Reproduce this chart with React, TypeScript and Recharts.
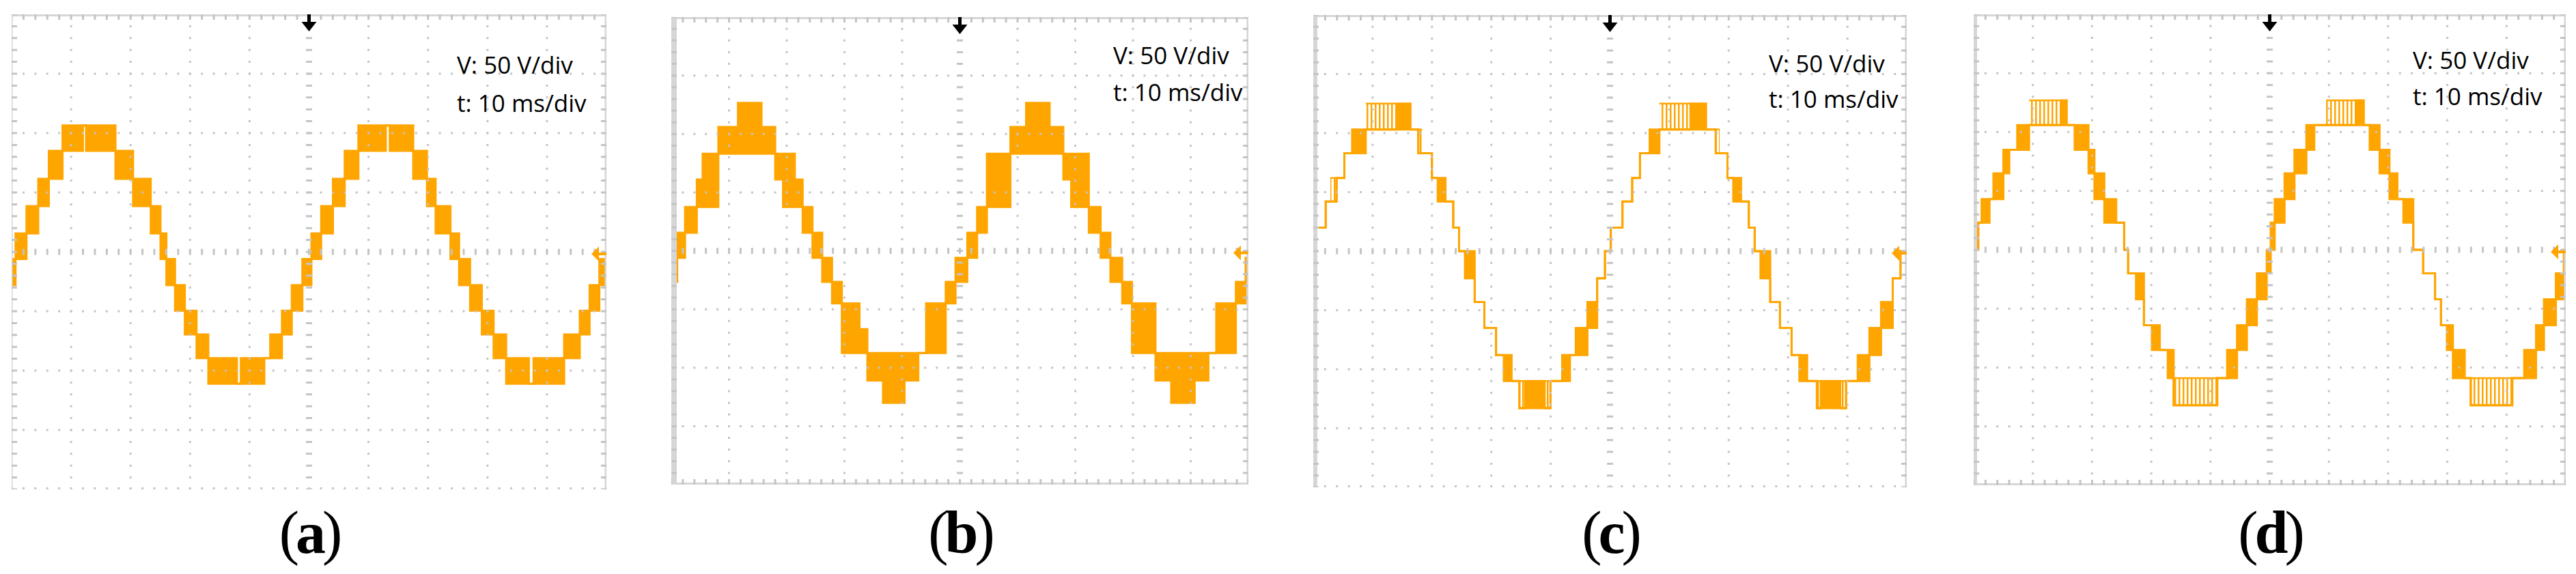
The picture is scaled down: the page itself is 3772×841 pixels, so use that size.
import React from 'react';
import { ComposedChart, Area, XAxis, YAxis, ReferenceLine, ReferenceDot } from 'recharts';

const ORANGE = '#FFA500';
const GRID = '#c4c4c4';
const FRAME = '#d6d6d6';

// time axis: 10 ms/div x 10 div ; voltage axis: 50 V/div x 8 div
const T_DOMAIN = [0, 100];
const V_DOMAIN = [-200, 200];
const T_GRID = [10, 20, 30, 40, 60, 70, 80, 90];
const V_GRID = [-150, -100, -50, 50, 100, 150];
const SCALE_TEXT = ['V: 50 V/div', 't: 10 ms/div'];
const LABELS = ['a', 'b', 'c', 'd'];

// ---- Panel (a) : staircase levels (V), segment boundaries (ms), low/high level index per segment
const A_LEVELS = [-111, -89.5, -69.5, -49.5, -28, -6, 15.5, 38.5, 61.5, 85, 106.5];
const A_T = [0, 0.66, 2.5, 4.48, 6.26, 8.56, 11.99, 12.52, 17.46, 20.42, 23.39, 25.03, 26.02, 27.47, 29.12, 31.09, 33.07, 37.88, 38.54, 42.49, 43.48, 45.45, 47.1, 48.88, 50.4, 52.04, 54.02, 56.0, 58.3, 62.91, 63.57, 67.52, 69.83, 71.28, 73.78, 75.23, 77.08, 79.05, 81.03, 83.14, 86.96, 87.75, 92.89, 95.52, 97.17, 98.81, 100];
const A_LO = [4, 5, 6, 7, 8, 9, 10, 9, 8, 7, 6, 5, 4, 3, 2, 1, 0, 0, 0, 1, 1, 2, 3, 4, 5, 6, 7, 8, 9, 10, 9, 8, 7, 6, 5, 4, 3, 2, 1, 0, 0, 0, 1, 2, 3, 4];
const A_HI = [5, 6, 7, 8, 9, 10, 10, 10, 9, 8, 7, 6, 5, 4, 3, 2, 1, 0, 1, 1, 2, 3, 4, 5, 6, 7, 8, 9, 10, 10, 10, 9, 8, 7, 6, 5, 4, 3, 2, 1, 0, 1, 2, 3, 4, 5];

// ---- Panel (b)
const B_LEVELS = [-130, -111, -87.5, -67, -45, -26.5, -6, 15.5, 37.5, 61, 83, 106, 126.5];
const B_T = [0, 1.02, 2.38, 4.42, 5.43, 8.15, 11.55, 15.63, 18.0, 19.36, 21.4, 22.76, 24.46, 26.15, 27.85, 29.55, 32.61, 33.97, 36.68, 40.42, 42.8, 44.16, 47.55, 49.25, 51.29, 52.99, 54.69, 58.76, 61.48, 65.56, 67.93, 69.29, 72.35, 74.39, 76.09, 78.13, 79.82, 83.9, 86.62, 90.69, 93.07, 94.43, 97.83, 99.52, 100];
const B_LO = [5, 6, 7, 8, 8, 10, 10, 10, 9, 8, 8, 7, 6, 5, 4, 2, 2, 1, 0, 1, 2, 2, 4, 5, 6, 7, 8, 10, 10, 10, 9, 8, 7, 6, 5, 4, 2, 1, 0, 1, 2, 2, 4, 5];
const B_HI = [6, 7, 8, 9, 10, 11, 12, 11, 10, 10, 9, 8, 7, 6, 5, 4, 3, 2, 2, 2, 2, 4, 5, 6, 7, 8, 10, 11, 12, 11, 10, 10, 8, 7, 6, 5, 4, 2, 2, 2, 2, 4, 5, 6];

// ---- Panel (c)  (COMB = 1 : fast switching shown as a comb of thin lines)
const C_LEVELS = [-133, -110, -88, -65, -43, -23, 0, 20, 42, 62, 83, 103, 125];
const C_T = [0, 0.52, 2.1, 2.88, 3.93, 5.24, 6.55, 8.85, 14.09, 16.38, 17.69, 18.35, 19.99, 20.97, 22.28, 23.59, 24.57, 25.56, 27.2, 28.83, 30.8, 32.11, 33.42, 34.73, 35.71, 38.99, 39.97, 41.94, 43.25, 44.23, 46.2, 47.84, 49.15, 50.13, 52.1, 53.74, 55.05, 56.68, 58.32, 63.56, 66.19, 67.82, 68.48, 69.79, 70.77, 72.08, 73.39, 74.38, 75.36, 77.0, 78.64, 80.6, 81.91, 83.22, 84.86, 85.52, 88.79, 89.78, 91.74, 93.71, 95.67, 97.64, 98.95, 100];
const C_LO = [6, 7, 8, 8, 9, 10, 10, 11, 11, 11, 10, 10, 9, 8, 8, 7, 6, 5, 4, 3, 2, 1, 1, 0, 0, 0, 1, 1, 2, 2, 3, 5, 6, 7, 8, 9, 10, 10, 11, 11, 11, 10, 10, 9, 8, 8, 7, 6, 5, 4, 3, 2, 1, 1, 0, 0, 0, 1, 1, 2, 3, 5, 6];
const C_HI = [6, 7, 8, 9, 9, 10, 11, 12, 12, 11, 11, 10, 9, 9, 8, 7, 6, 6, 4, 3, 2, 2, 1, 1, 1, 1, 1, 2, 2, 3, 4, 5, 6, 7, 8, 9, 10, 11, 12, 12, 11, 11, 10, 9, 9, 8, 7, 6, 6, 4, 3, 2, 2, 1, 1, 1, 1, 1, 2, 3, 4, 5, 6];
const C_COMB = [0, 0, 0, 1, 0, 0, 0, 1, 0, 0, 1, 0, 0, 0, 0, 0, 0, 0, 0, 0, 0, 0, 0, 1, 0, 1, 0, 0, 0, 0, 0, 0, 0, 0, 0, 0, 0, 0, 1, 0, 0, 1, 0, 0, 0, 0, 0, 0, 0, 0, 0, 0, 0, 0, 1, 0, 1, 0, 0, 0, 0, 0, 0];

// ---- Panel (d)
const D_LEVELS = [-132, -109, -85, -64, -42, -20, 0, 23, 43, 65, 85, 106, 127];
const D_T = [0, 0.33, 0.8, 1.34, 2.68, 3.34, 5.02, 6.02, 7.36, 9.36, 14.72, 15.72, 17.06, 19.4, 20.4, 22.07, 24.08, 25.42, 26.09, 27.42, 28.76, 30.1, 31.44, 32.78, 33.78, 41.14, 42.81, 44.48, 46.15, 47.83, 49.5, 50.17, 50.84, 52.51, 54.18, 56.19, 57.53, 59.53, 64.55, 65.89, 66.89, 68.56, 70.23, 71.57, 72.58, 74.25, 75.92, 77.93, 78.93, 79.93, 80.94, 82.94, 83.95, 90.97, 92.98, 94.98, 96.32, 98.33, 99.67, 100];
const D_LO = [6, 6, 7, 7, 8, 8, 9, 10, 10, 11, 11, 11, 10, 9, 8, 7, 7, 6, 5, 4, 3, 2, 2, 1, 0, 1, 1, 2, 3, 4, 5, 6, 7, 8, 9, 10, 11, 11, 11, 11, 10, 9, 8, 8, 7, 6, 5, 4, 3, 2, 1, 1, 0, 1, 1, 2, 3, 4, 5];
const D_HI = [6, 7, 7, 8, 8, 9, 10, 10, 11, 12, 12, 11, 11, 10, 9, 8, 7, 6, 5, 5, 3, 3, 2, 2, 1, 1, 2, 3, 4, 5, 6, 7, 8, 9, 10, 11, 11, 12, 12, 11, 11, 10, 9, 8, 8, 6, 5, 4, 3, 3, 2, 1, 1, 1, 2, 3, 4, 5, 6];
const D_COMB = [0, 0, 0, 0, 0, 0, 0, 0, 0, 1, 0, 0, 0, 0, 0, 0, 0, 0, 0, 0, 0, 0, 0, 0, 1, 0, 0, 0, 0, 0, 0, 0, 0, 0, 0, 0, 0, 1, 0, 0, 0, 0, 0, 0, 0, 0, 0, 0, 0, 0, 0, 0, 1, 0, 0, 0, 0, 0, 0];

type Seg = { T: number[]; LEVELS: number[]; LO: number[]; HI: number[]; COMB: number[] | null };

function buildRows(s: Seg) {
  const rows: any[] = [];
  for (let i = 0; i < s.LO.length; i++) {
    const lo = s.LEVELS[s.LO[i]];
    const hi = s.LEVELS[s.HI[i]];
    const isComb = s.COMB ? s.COMB[i] === 1 : false;
    const solid = isComb ? [lo, lo] : [lo, hi];
    const comb = isComb ? [lo, hi] : null;
    rows.push({ t: s.T[i], solid, comb });
    rows.push({ t: s.T[i + 1], solid, comb });
  }
  return rows;
}

// layout (pixels) of each scope frame
const LAYOUT = [
  { x: 17, y: 21, w: 871, h: 696, tx: 669, ty: [108, 164], lb: 3, bottomSolid: false },
  { x: 983, y: 25, w: 845, h: 685, tx: 1630, ty: [94, 148], lb: 16, bottomSolid: true },
  { x: 1923, y: 22, w: 869, h: 692, tx: 2590, ty: [106, 158], lb: 12, bottomSolid: false },
  { x: 2890, y: 21, w: 867, h: 690, tx: 3533, ty: [101, 154], lb: 10, bottomSolid: true },
];

const SEGS: Seg[] = [
  { T: A_T, LEVELS: A_LEVELS, LO: A_LO, HI: A_HI, COMB: null },
  { T: B_T, LEVELS: B_LEVELS, LO: B_LO, HI: B_HI, COMB: null },
  { T: C_T, LEVELS: C_LEVELS, LO: C_LO, HI: C_HI, COMB: C_COMB },
  { T: D_T, LEVELS: D_LEVELS, LO: D_LO, HI: D_HI, COMB: D_COMB },
];

const TriggerArrow = (props: any) => {
  const { cx, cy } = props;
  return (
    <g>
      <rect x={cx - 2.5} y={cy} width={5} height={13} fill="#000" />
      <polygon points={`${cx - 11},${cy + 11} ${cx + 11},${cy + 11} ${cx},${cy + 25}`} fill="#000" />
    </g>
  );
};

const GroundMarker = (props: any) => {
  const { cx, cy } = props;
  return (
    <g>
      <polygon points={`${cx - 22},${cy + 3} ${cx - 11},${cy - 8} ${cx - 11},${cy + 14}`} fill={ORANGE} />
      <rect x={cx - 12} y={cy + 1} width={12} height={4} fill={ORANGE} />
    </g>
  );
};

function Scope({ idx }: { idx: number }) {
  const L = LAYOUT[idx];
  const rows = buildRows(SEGS[idx]);
  const spX = L.w / 50;
  const spY = L.h / 40;
  const dashX = `3 ${spX - 3}`;
  const dashY = `3 ${spY - 3}`;
  const pid = `comb-${idx}`;
  return (
    <div style={{ position: 'absolute', left: L.x, top: L.y, width: L.w, height: L.h, overflow: 'hidden' }}>
      <ComposedChart width={L.w} height={L.h} data={rows} margin={{ top: 0, right: 0, bottom: 0, left: 0 }}>
        <defs>
          <pattern id={pid} patternUnits="userSpaceOnUse" width={6} height={10}>
            <rect x={0} y={0} width={2.5} height={10} fill={ORANGE} />
          </pattern>
        </defs>
        <XAxis type="number" dataKey="t" domain={T_DOMAIN} hide />
        <YAxis type="number" domain={V_DOMAIN} hide />
        {T_GRID.map((v) => (
          <ReferenceLine key={'gx' + v} x={v} stroke={GRID} strokeWidth={3} strokeDasharray={dashY} strokeDashoffset={1.5} />
        ))}
        {V_GRID.map((v) => (
          <ReferenceLine key={'gy' + v} y={v} stroke={GRID} strokeWidth={3} strokeDasharray={dashX} strokeDashoffset={1.5} />
        ))}
        <ReferenceLine x={50} stroke={GRID} strokeWidth={9} strokeDasharray={dashY} strokeDashoffset={1.5} />
        <ReferenceLine y={0} stroke={GRID} strokeWidth={9} strokeDasharray={dashX} strokeDashoffset={1.5} />
        {/* frame */}
        <ReferenceLine y={200} stroke={FRAME} strokeWidth={6} />
        <ReferenceLine y={200} stroke={GRID} strokeWidth={16} strokeDasharray={dashX} strokeDashoffset={1.5} />
        <ReferenceLine x={0} stroke={FRAME} strokeWidth={L.lb} />
        <ReferenceLine x={0} stroke={GRID} strokeWidth={16} strokeDasharray={dashY} strokeDashoffset={1.5} />
        <ReferenceLine x={100} stroke={FRAME} strokeWidth={5} />
        <ReferenceLine x={100} stroke={GRID} strokeWidth={16} strokeDasharray={dashY} strokeDashoffset={1.5} />
        {L.bottomSolid ? <ReferenceLine y={-200} stroke={FRAME} strokeWidth={6} /> : null}
        <ReferenceLine y={-200} stroke={GRID} strokeWidth={L.bottomSolid ? 16 : 6} strokeDasharray={dashX} strokeDashoffset={1.5} />
        <Area
          dataKey="solid"
          type="linear"
          stroke={ORANGE}
          strokeWidth={3}
          fill={ORANGE}
          fillOpacity={1}
          dot={false}
          activeDot={false}
          isAnimationActive={false}
        />
        <Area
          dataKey="comb"
          type="linear"
          stroke={ORANGE}
          strokeWidth={2.5}
          fill={`url(#${pid})`}
          fillOpacity={1}
          dot={false}
          activeDot={false}
          isAnimationActive={false}
        />
        <ReferenceDot x={50} y={200} r={0} ifOverflow="visible" shape={TriggerArrow} />
        <ReferenceDot x={100} y={0} r={0} ifOverflow="visible" shape={GroundMarker} />
      </ComposedChart>
    </div>
  );
}

export default function App() {
  return (
    <div style={{ position: 'absolute', left: 0, top: 0, width: 3772, height: 841, background: '#fff', overflow: 'hidden' }}>
      {LAYOUT.map((_, i) => (
        <Scope key={i} idx={i} />
      ))}
      <svg width={3772} height={841} style={{ position: 'absolute', left: 0, top: 0, pointerEvents: 'none' }}>
        {LAYOUT.map((L, i) => (
          <g key={i}>
            <text x={L.tx} y={L.ty[0]} fontFamily="'Open Sans', sans-serif" fontSize={35} fill="#000">
              {SCALE_TEXT[0]}
            </text>
            <text x={L.tx} y={L.ty[1]} fontFamily="'Open Sans', sans-serif" fontSize={35} fill="#000">
              {SCALE_TEXT[1]}
            </text>
            <text
              x={L.x + L.w / 2}
              y={810}
              textAnchor="middle"
              fontFamily="'Liberation Serif', serif"
              fontSize={88}
              letterSpacing={-5}
              fill="#000"
            >
              (<tspan fontWeight="bold">{LABELS[i]}</tspan>)
            </text>
          </g>
        ))}
      </svg>
    </div>
  );
}
